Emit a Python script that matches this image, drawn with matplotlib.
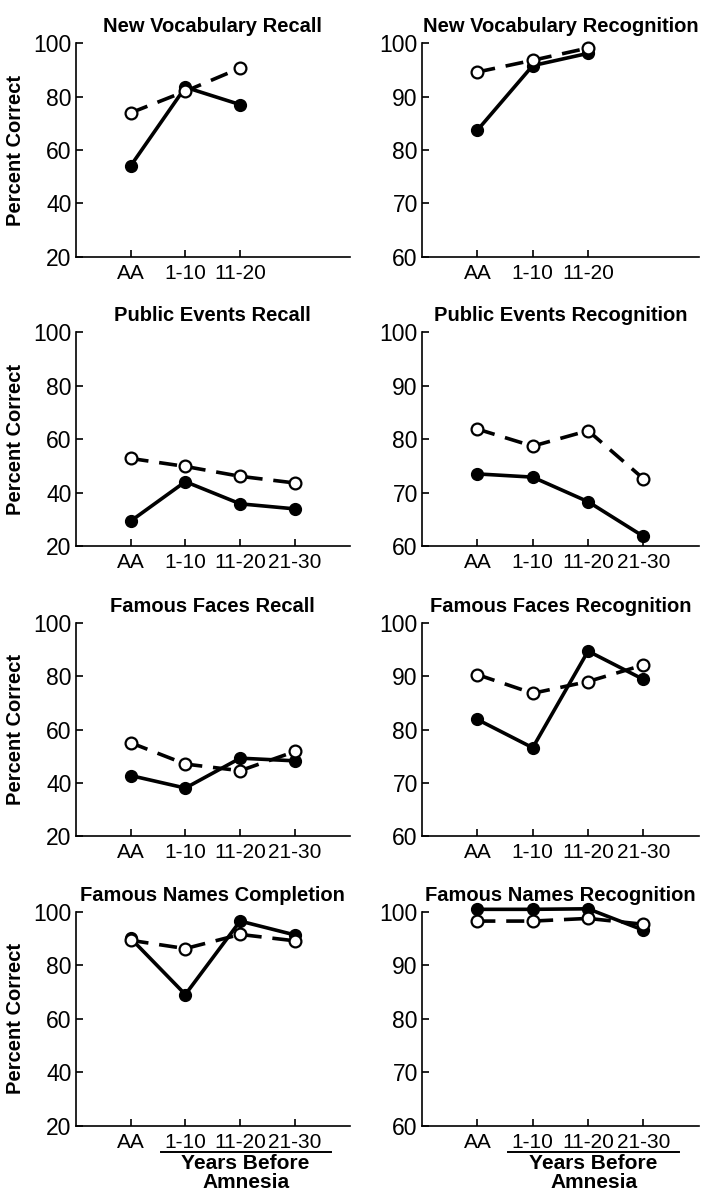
"""Remote memory tests: patient vs. controls, eight panels."""

import matplotlib
matplotlib.use('Agg')
import matplotlib.pyplot as plt
import matplotlib.transforms as mtrans

plt.rcParams['font.family'] = ['Liberation Sans', 'DejaVu Sans']

# Panel titles, in reading order (left to right, top to bottom)
titles = ['New Vocabulary Recall', 'New Vocabulary Recognition',
          'Public Events Recall', 'Public Events Recognition',
          'Famous Faces Recall', 'Famous Faces Recognition',
          'Famous Names Completion', 'Famous Names Recognition']

periods = ['AA', '1-10', '11-20', '21-30']

# Filled circles (solid line) and open circles (dashed line)
filled = [
    [54, 83.5, 77],
    [83.7, 95.8, 98.1],
    [29.3, 44.1, 35.8, 33.9],
    [73.5, 72.9, 68.3, 61.8],
    [42.8, 38.1, 49.3, 48.3],
    [81.9, 76.6, 94.7, 89.4],
    [90.2, 69.1, 96.6, 91.4],
    [100.5, 100.5, 100.6, 96.6],
]
opened = [
    [73.9, 82, 90.7],
    [94.6, 96.8, 99.1],
    [52.8, 49.8, 46.1, 43.6],
    [81.9, 78.7, 81.6, 72.6],
    [55.1, 47.1, 44.6, 51.8],
    [90.3, 86.8, 89.0, 92.1],
    [89.4, 86.3, 91.6, 89.2],
    [98.3, 98.3, 98.8, 97.7],
]

# Recall panels run 20-100, recognition panels 60-100
ylims = [(20, 100), (60, 100)] * 4
yticks = [[20, 40, 60, 80, 100], [60, 70, 80, 90, 100]] * 4

fig = plt.figure(figsize=(7.08, 12), dpi=100)

lefts = [0.107, 0.596]
widths = [0.387, 0.391]
bottoms = [0.786, 0.545, 0.303, 0.062]
height = 0.178

axes = []
for i in range(8):
    row, col = divmod(i, 2)
    ax = fig.add_axes([lefts[col], bottoms[row], widths[col], height])
    axes.append(ax)
    x = list(range(len(filled[i])))
    ax.plot(x, filled[i], '-', color='black', lw=2.6, marker='o', ms=8.5,
            mfc='black', mec='black', clip_on=False, zorder=3)
    ax.plot(x, opened[i], '--', color='black', lw=2.6, dashes=(5, 3),
            marker='o', ms=8.5, mfc='white', mec='black', mew=1.6,
            clip_on=False, zorder=4)
    ax.set_xlim(-1, 4)
    ax.set_ylim(*ylims[i])
    ax.set_yticks(yticks[i])
    ntick = 3 if i < 2 else 4
    ax.set_xticks(range(ntick))
    ax.set_xticklabels(periods[:ntick])
    ax.spines['top'].set_visible(False)
    ax.spines['right'].set_visible(False)
    ax.spines['left'].set_linewidth(1.2)
    ax.spines['bottom'].set_linewidth(1.2)
    ax.tick_params(direction='in', length=5, width=1.2)
    ax.tick_params(axis='x', pad=5, labelsize=15)
    ax.tick_params(axis='y', pad=3, labelsize=16.5)
    ax.set_title(titles[i], fontsize=14.5, fontweight='bold', pad=8)
    if col == 0:
        ax.set_ylabel('Percent Correct', fontsize=14.5, fontweight='bold',
                      labelpad=6)

# "Years Before Amnesia" bracket under the bottom row
for ax in axes[6:]:
    trans = mtrans.blended_transform_factory(ax.transData, ax.transAxes)
    ax.plot([0.55, 3.65], [-0.125, -0.125], color='black', lw=1.4,
            transform=trans, clip_on=False)
    ax.text(2.1, -0.135, 'Years Before\nAmnesia', transform=trans,
            ha='center', va='top', fontsize=15, fontweight='bold',
            linespacing=0.95)

fig.savefig('out.png', dpi=100)
